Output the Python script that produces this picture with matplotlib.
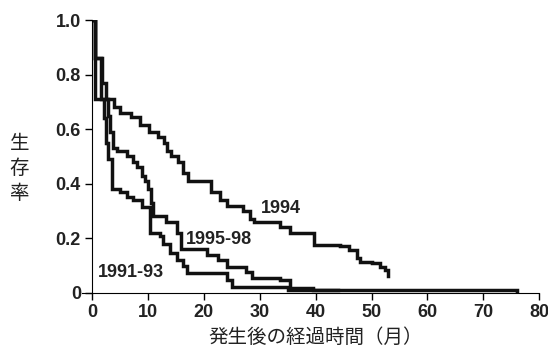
import matplotlib.pyplot as plt

# survival curves (months, survival rate)
t_9193 = [0, 0.5, 1.6, 2.2, 2.5, 2.8, 3.6, 5.0, 6.3, 7.3, 8.9, 10.4, 12.2, 12.7,
          14.0, 15.2, 16.3, 17.0, 24.2, 25.0, 35.0, 76.0]
s_9193 = [1.0, 0.86, 0.71, 0.64, 0.55, 0.49, 0.38, 0.37, 0.35, 0.34, 0.315, 0.22,
          0.21, 0.18, 0.146, 0.12, 0.10, 0.073, 0.047, 0.022, 0.011, 0.008]

t_94 = [0, 0.5, 4.0, 5.0, 7.0, 8.5, 10.2, 11.8, 12.8, 13.4, 14.2, 15.4, 16.3,
        17.2, 21.3, 22.9, 24.2, 27.0, 28.3, 29.0, 33.6, 35.4, 36.1, 39.7, 44.4,
        46.0, 47.4, 48.0, 50.0, 51.5, 52.4, 52.9]
s_94 = [1.0, 0.71, 0.68, 0.66, 0.645, 0.615, 0.59, 0.57, 0.55, 0.52, 0.50, 0.48,
        0.44, 0.41, 0.37, 0.34, 0.32, 0.30, 0.27, 0.26, 0.24, 0.22, 0.22, 0.176,
        0.17, 0.157, 0.128, 0.114, 0.11, 0.095, 0.084, 0.06]

t_9598 = [0, 0.5, 1.8, 2.5, 2.8, 3.2, 3.8, 4.5, 6.3, 7.3, 8.0, 8.9, 9.5, 10.0,
          10.6, 10.9, 13.3, 15.2, 16.0, 20.6, 22.6, 24.2, 27.5, 28.7, 33.6,
          35.4, 39.5, 44.0]
s_9598 = [1.0, 0.86, 0.77, 0.71, 0.65, 0.59, 0.53, 0.52, 0.50, 0.48, 0.46, 0.43,
          0.41, 0.38, 0.33, 0.28, 0.26, 0.22, 0.16, 0.14, 0.12, 0.095, 0.077,
          0.055, 0.047, 0.018, 0.011, 0.011]

x_ticks = [0, 10, 20, 30, 40, 50, 60, 70, 80]
y_ticks = [0, 0.2, 0.4, 0.6, 0.8, 1.0]
y_tick_labels = ['0', '0.2', '0.4', '0.6', '0.8', '1.0']

plt.rcParams['font.family'] = ['Liberation Sans', 'DejaVu Sans']
jp = ['Noto Sans CJK JP', 'DejaVu Sans']

fig = plt.figure(figsize=(5.48, 3.52), dpi=100)
ax = fig.add_axes([0.168, 0.168, 0.816, 0.775])

for t, s in [(t_9193, s_9193), (t_94, s_94), (t_9598, s_9598)]:
    ax.step(t, s, where='post', color='#111111', linewidth=2.5,
            solid_joinstyle='miter')

ax.set_xlim(0, 80)
ax.set_ylim(0, 1.0)
ax.set_xticks(x_ticks)
ax.set_yticks(y_ticks)
ax.set_yticklabels(y_tick_labels)
ax.tick_params(direction='out', length=5, width=1, labelsize=13, pad=3)
for lab in ax.get_xticklabels() + ax.get_yticklabels():
    lab.set_fontweight('bold')
    lab.set_color('#222222')

ax.spines['top'].set_visible(False)
ax.spines['right'].set_visible(False)
ax.spines['bottom'].set_bounds(-1.8, 80)

# curve labels
ax.text(30.2, 0.31, '1994', fontsize=13, fontweight='bold', color='#222222',
        va='center')
ax.text(16.8, 0.195, '1995-98', fontsize=13, fontweight='bold', color='#222222',
        va='center')
ax.text(1.0, 0.075, '1991-93', fontsize=13, fontweight='bold', color='#222222',
        va='center')

ax.set_xlabel('発生後の経過時間（月）', family=jp, fontsize=14, labelpad=4,
              color='#222222')
fig.text(0.035, 0.52, '生\n存\n率', family=jp, fontsize=14, ha='center',
         va='center', linespacing=1.25, color='#222222')

fig.savefig('out.png', dpi=100)
